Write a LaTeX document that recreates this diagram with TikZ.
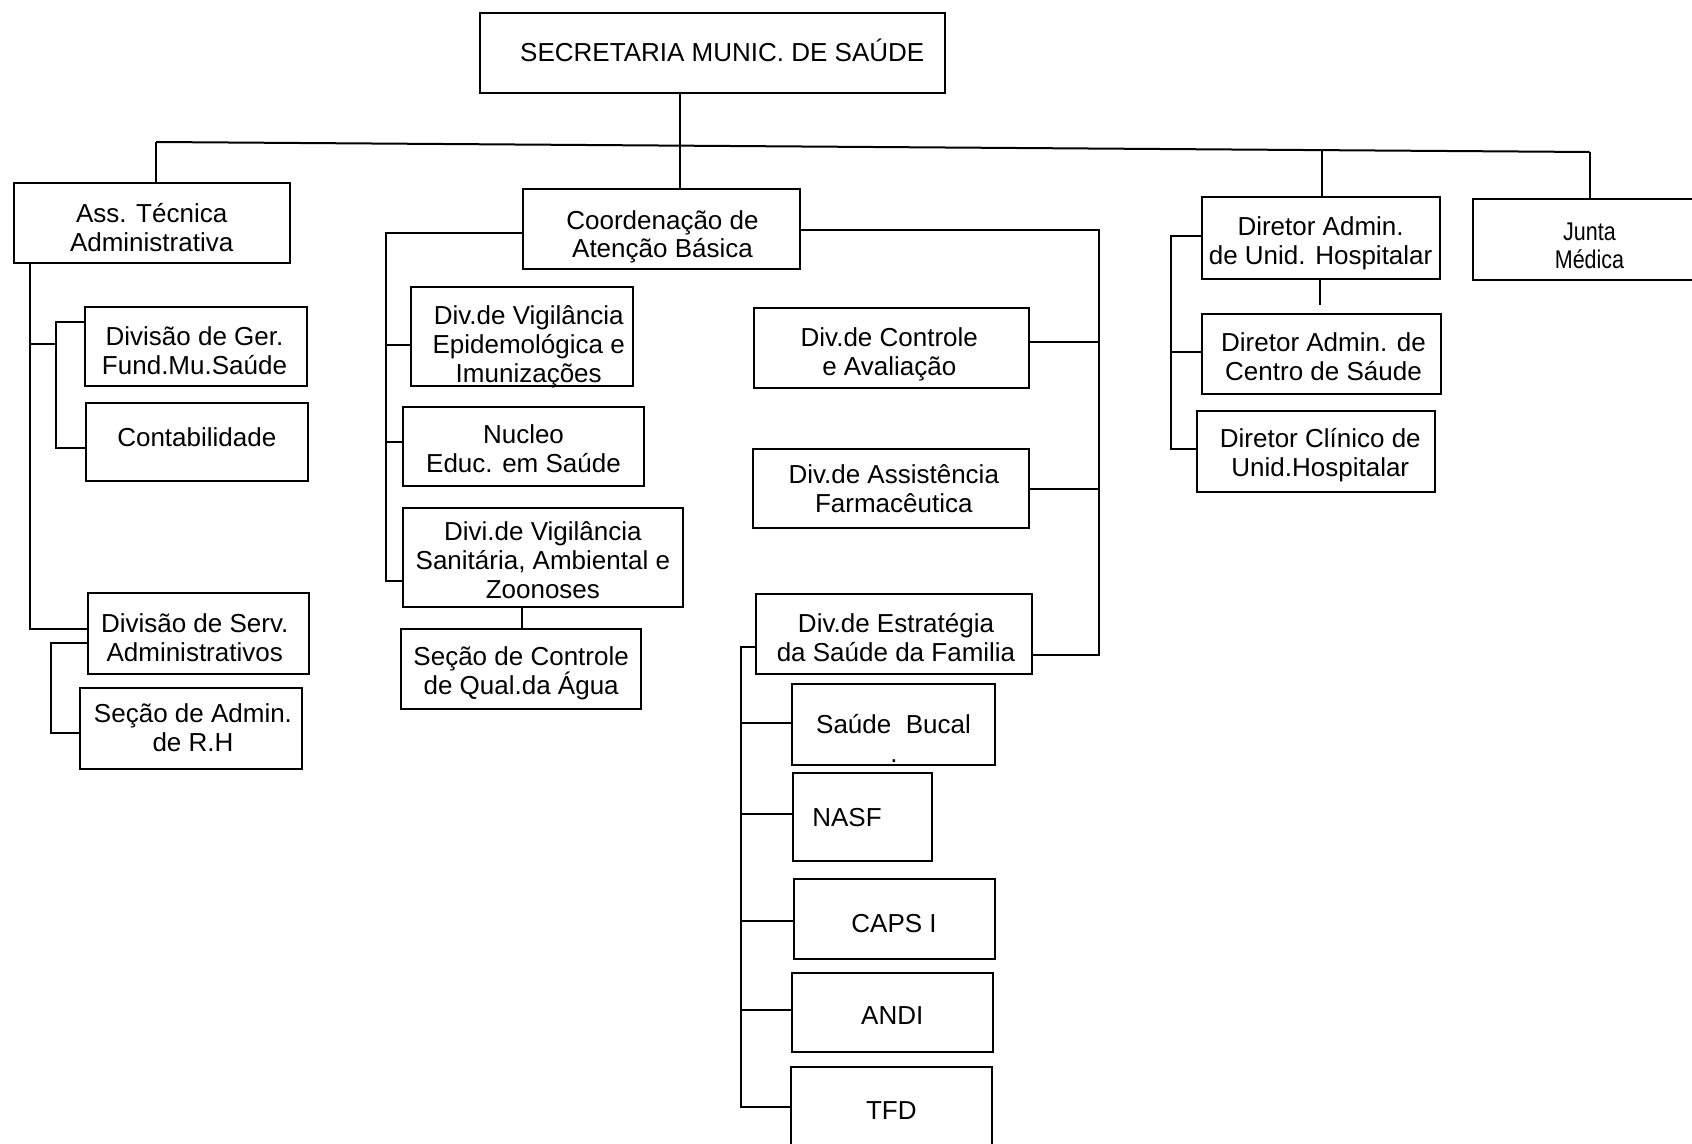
\documentclass[tikz,border=0pt]{standalone}
\usepackage{fontspec}
\setmainfont{Liberation Sans}
\newfontfamily\narrowfont[FakeStretch=0.84]{Liberation Sans}
% \mkbox[text opts]{name}{x1}{x2}{y1}{y2}{dx}{dy}{text}
\newcommand\mkbox[9][]{%
  \pgfmathsetmacro\bw{(#4-#3)*0.5}%
  \pgfmathsetmacro\bh{(#6-#5)*0.5}%
  \node[box,minimum width=\bw pt,minimum height=\bh pt] (#2) at ({(#3+#4)/2},{(#5+#6)/2}) {};
  \node[boxtext,#1] (#2-t) at ([shift={(#7,#8)}]#2.center) {#9};}
\begin{document}
\begin{tikzpicture}[x=0.5pt,y=-0.5pt,
  box/.style={draw,line width=1pt,inner sep=0pt},
  boxtext/.style={inner sep=0pt,align=center,font=\fontsize{13}{14.4}\selectfont},
  conn/.style={line width=1pt}]
\useasboundingbox (0,0) rectangle (1692,1144);
% boxes
\mkbox{sec}{479.5}{945}{13}{93}{10}{-3}{SECRETARIA MUNIC. DE SAÚDE}
\mkbox{ass}{13.7}{289.6}{183.5}{263.5}{0}{4.3}{Ass. Técnica\\Administrativa}
\mkbox{ger}{84.5}{306.5}{307.5}{386}{-1}{4.3}{Divisão de Ger.\\Fund.Mu.Saúde}
\mkbox{cont}{85.6}{308}{402.7}{481}{0}{-4.3}{Contabilidade}
\mkbox{serv}{88}{309}{592.7}{673.7}{-3.8}{4.3}{Divisão de Serv.\\Administrativos}
\mkbox{rh}{80}{302}{688.3}{768.5}{2}{-1}{Seção de Admin.\\de R.H}
\mkbox{coord}{523}{800}{189}{269.5}{1}{7.5}{Coordenação de\\Atenção Básica}
\mkbox{epid}{411}{633.4}{287.3}{386.5}{6.5}{9.7}{Div.de Vigilância\\Epidemológica e\\Imunizações}
\mkbox{nuc}{403}{644}{407.5}{486.5}{0}{2}{Nucleo\\Educ. em Saúde}
\mkbox{divi}{403}{682.7}{508}{607}{0}{2.7}{Divi.de Vigilância\\Sanitária, Ambiental e\\Zoonoses}
\mkbox{agua}{401}{641.3}{629}{708.5}{0}{4.8}{Seção de Controle\\de Qual.da Água}
\mkbox{ctrl}{753.6}{1029}{308.3}{388}{-2}{6.5}{Div.de Controle\\e Avaliação}
\mkbox{farm}{752.8}{1028.7}{449.3}{527.7}{3}{0}{Div.de Assistência\\Farmacêutica}
\mkbox{estr}{756.4}{1031.6}{593.7}{673.7}{2}{3.8}{Div.de Estratégia\\da Saúde da Familia}
\mkbox{bucal}{792.4}{994.6}{684.3}{764.7}{0}{0}{Saúde\ \ Bucal}
\node[boxtext] (dot) at (894,761.5) {.};
\mkbox{nasf}{793}{932}{773}{861}{-15.5}{1}{NASF}
\mkbox{caps}{793.5}{994.6}{878.7}{959.3}{0}{4.3}{CAPS I}
\mkbox{andi}{791.7}{992.8}{972.7}{1052}{0}{3.2}{ANDI}
\mkbox{tfd}{790.6}{992}{1067}{1156}{0}{-1}{TFD}
\mkbox{dah}{1201.7}{1439.5}{197.5}{279}{0}{4.8}{Diretor Admin.\\de Unid. Hospitalar}
\mkbox{dcs}{1202}{1441}{314}{394.3}{2}{2.7}{Diretor Admin. de\\Centro de Sáude}
\mkbox{dcl}{1197.4}{1435.2}{410.7}{491.7}{4}{4.3}{Diretor Clínico de\\Unid.Hospitalar}
\mkbox[font=\narrowfont\fontsize{12.8}{14}\selectfont]{junta}{1473}{1706}{199.5}{280}{0}{6.5}{Junta\\Médica}
% top bus
\coordinate (busL) at (156,142);
\coordinate (busR) at (1589.5,152);
\coordinate (jc) at (680,145.7);
\coordinate (jd) at (1322,150.1);
\draw[conn] (busL) -- (busR);
\draw[conn] (sec.south -| jc) -- (jc) -- (jc |- coord.north);
\draw[conn] (busL) -- (busL |- ass.north);
\draw[conn] (jd) -- (jd |- dah.north);
\draw[conn] (busR) -- (busR |- junta.north);
% left branch
\coordinate (t1) at (30,629.3);
\draw[conn] (ass.south -| t1) -- (t1) -- (t1 -| serv.west);
\coordinate (b1t) at (55.8,321.7);
\coordinate (b1m) at (55.8,344);
\coordinate (b1b) at (55.8,447.7);
\draw[conn] (b1t -| ger.west) -- (b1t) -- (b1b) -- (b1b -| cont.west);
\draw[conn] (b1m -| t1) -- (b1m);
\coordinate (b2t) at (51.4,642.7);
\coordinate (b2b) at (51.4,732.7);
\draw[conn] (b2t -| serv.west) -- (b2t) -- (b2b) -- (b2b -| rh.west);
% middle left
\coordinate (ml0) at (385.5,233.3);
\coordinate (ml1) at (385.5,345);
\coordinate (ml2) at (385.5,442);
\coordinate (ml3) at (385.5,581);
\draw[conn] (ml0 -| coord.west) -- (ml0) -- (ml3) -- (ml3 -| divi.west);
\draw[conn] (ml1) -- (ml1 -| epid.west);
\draw[conn] (ml2) -- (ml2 -| nuc.west);
\coordinate (dv) at (522.3,620);
\draw[conn] (dv |- divi.south) -- (dv |- agua.north);
% middle right
\coordinate (mr0) at (1099,230);
\coordinate (mr1) at (1099,341.7);
\coordinate (mr2) at (1099,489.3);
\coordinate (mr3) at (1099,655);
\draw[conn] (mr0 -| coord.east) -- (mr0) -- (mr3) -- (mr3 -| estr.east);
\draw[conn] (mr1) -- (mr1 -| ctrl.east);
\draw[conn] (mr2) -- (mr2 -| farm.east);
% estrategia children
\coordinate (e0) at (741,646.7);
\coordinate (e1) at (741,722.7);
\coordinate (e2) at (741,814.3);
\coordinate (e3) at (741,921.3);
\coordinate (e4) at (741,1010.3);
\coordinate (e5) at (741,1107);
\draw[conn] (e0 -| estr.west) -- (e0) -- (e5) -- (e5 -| tfd.west);
\draw[conn] (e1) -- (e1 -| bucal.west);
\draw[conn] (e2) -- (e2 -| nasf.west);
\draw[conn] (e3) -- (e3 -| caps.west);
\draw[conn] (e4) -- (e4 -| andi.west);
% right branch
\coordinate (dstub) at (1319.7,305);
\draw[conn] (dstub |- dah.south) -- (dstub);
\coordinate (r1) at (1171,236);
\coordinate (r2) at (1171,352);
\coordinate (r3) at (1171,449.3);
\draw[conn] (r1 -| dah.west) -- (r1) -- (r3) -- (r3 -| dcl.west);
\draw[conn] (r2) -- (r2 -| dcs.west);
\end{tikzpicture}
\end{document}
